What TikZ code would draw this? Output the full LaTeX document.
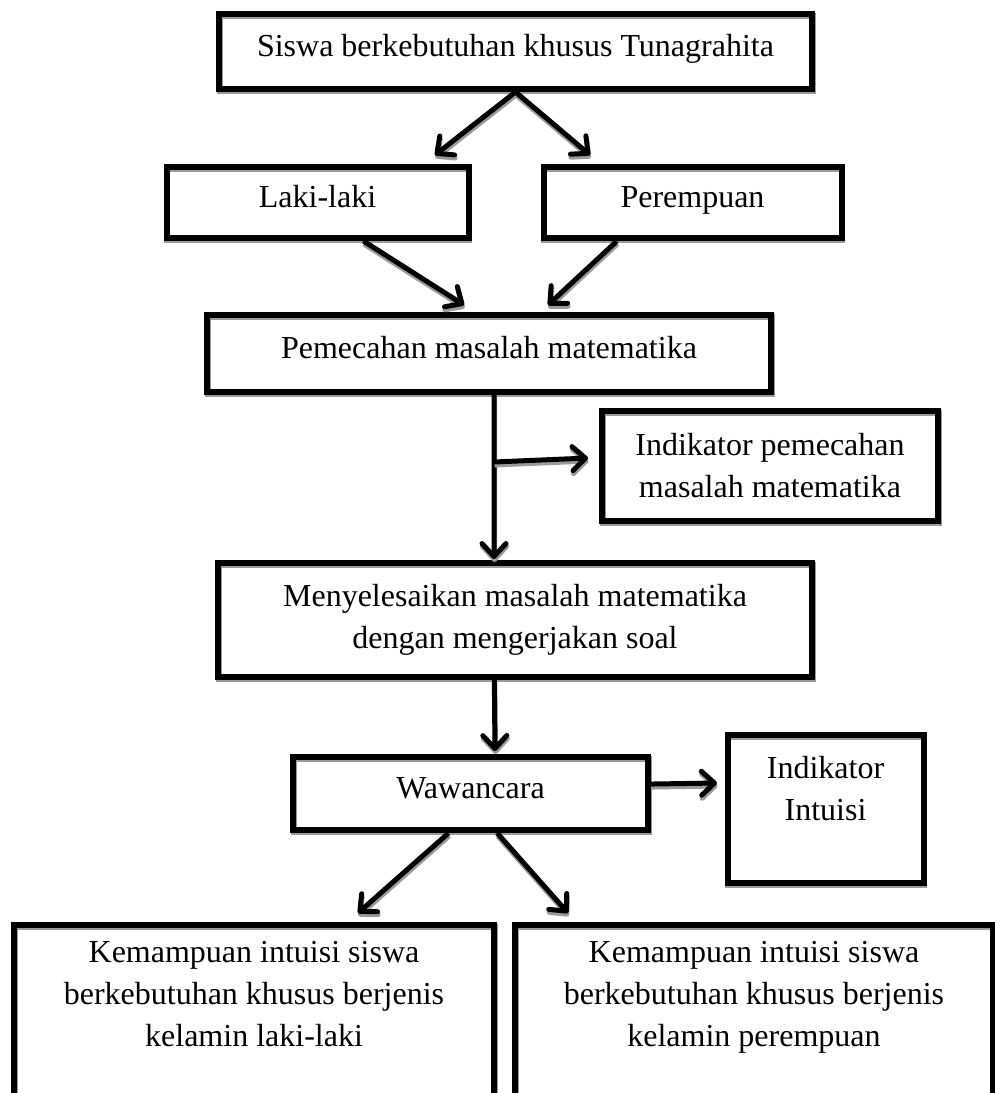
\documentclass[tikz,border=0pt]{standalone}
\usepackage{fontspec}
\setmainfont{Liberation Serif}
\usetikzlibrary{arrows.meta}
\definecolor{shadowgray}{HTML}{9A9A9A}
\tikzset{
  box/.style={draw, line width=6pt, inner sep=0pt, align=center, font=\fontsize{32}{42}\selectfont,
    preaction={draw=shadowgray, line width=6pt, transform canvas={shift={(0.5pt,-1.5pt)}}}},
  one/.style={text height=22pt, text depth=12pt},
  txt/.style={inner sep=0pt, align=center, font=\fontsize{32}{42}\selectfont},
  arr/.style={line width=5pt, -{Straight Barb[length=13pt,width=24pt,round]}},
}
\newcommand\shadarrow[2]{%
  \draw[arr, draw=shadowgray, transform canvas={shift={(0.5pt,-3pt)}}] (#1) -- (#2);
  \draw[arr] (#1) -- (#2);}
\begin{document}
\begin{tikzpicture}[x=1pt,y=-1pt]
\useasboundingbox (0,0) rectangle (995,1093);
% boxes
\node[box, one, minimum width=593pt, minimum height=75pt] (top) at (515.5,51.5) {Siswa berkebutuhan khusus Tunagrahita};
\node[box, one, minimum width=302pt, minimum height=71pt] (laki) at (317.5,202.5) {Laki-laki};
\node[box, one, minimum width=298pt, minimum height=71pt] (perem) at (692.5,202.5) {Perempuan};
\node[box, one, minimum width=564pt, minimum height=77pt] (pem) at (489,353.5) {Pemecahan masalah matematika};
\node[box, minimum width=336pt, minimum height=110pt] (ind1) at (770,466) {Indikator pemecahan\\masalah matematika};
\node[box, minimum width=594pt, minimum height=114pt] (meny) at (515,620) {Menyelesaikan masalah matematika\\dengan mengerjakan soal};
\node[box, one, minimum width=355pt, minimum height=73pt] (waw) at (470.5,793.5) {Wawancara};
\node[box, minimum width=196pt, minimum height=148pt] (ind2) at (825.5,809) {};
\node[txt] (ind2t) at (825.5,789) {Indikator\\Intuisi};
\node[box, anchor=north, minimum width=480pt, minimum height=260pt] (bl) at (254,922) {};
\node[txt] (blt) at (254,994) {Kemampuan intuisi siswa\\berkebutuhan khusus berjenis\\kelamin laki-laki};
\node[box, anchor=north, minimum width=478pt, minimum height=260pt] (br) at (754,922) {};
\node[txt] (brt) at (754,997) {Kemampuan intuisi siswa\\berkebutuhan khusus berjenis\\kelamin perempuan};
% connector ends
\coordinate (a1) at (435,155);
\coordinate (a2) at (590,155);
\coordinate (b1) at (464,305);
\coordinate (b2) at (548,305);
\coordinate (v1) at (494,559);
\coordinate (j) at (494,462);
\coordinate (h1) at (588,458);
\coordinate (v2) at (495,751);
\coordinate (w1) at (717,783);
\coordinate (c1) at (358,913);
\coordinate (c2) at (568,913);
% connectors
\shadarrow{top.south}{a1}
\shadarrow{top.south}{a2}
\shadarrow{laki.-40}{b1}
\shadarrow{perem.-153}{b2}
\shadarrow{pem.-83}{v1}
\shadarrow{j}{h1}
\shadarrow{meny.-109}{v2}
\shadarrow{waw.3}{w1}
\shadarrow{waw.-119}{c1}
\shadarrow{waw.-56}{c2}
\end{tikzpicture}
\end{document}
